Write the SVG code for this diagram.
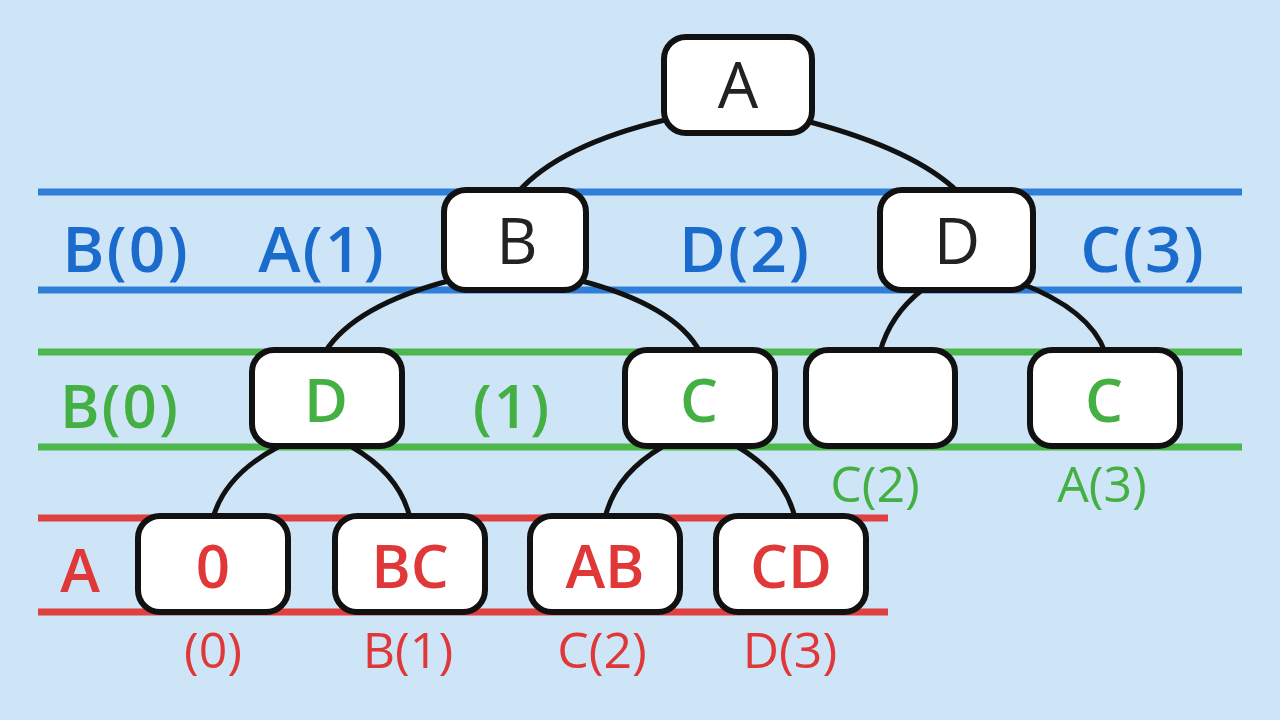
<svg xmlns="http://www.w3.org/2000/svg" width="1280" height="720" viewBox="0 0 1280 720">
<style>
.n{fill:#fff;stroke:#111;stroke-width:6}
.e{fill:none;stroke:#111;stroke-width:5}
.t{font-family:"Open Sans","Liberation Sans",sans-serif;text-anchor:middle}
.bl{fill:#1a6bcc;font-size:64px;font-weight:600;letter-spacing:2px}
.gr{fill:#44b044;font-size:60px;font-weight:600;letter-spacing:2px}
.rd{fill:#e03838;font-size:60px;font-weight:600}
.sg{fill:#44b044;font-size:50px}
.sr{fill:#e03838;font-size:50px}
</style>
<rect width="1280" height="720" fill="#cde5f6"/>
<g id="bands">
<line x1="38" y1="192" x2="1242" y2="192" stroke="#2f7fd8" stroke-width="7"/>
<line x1="38" y1="290" x2="1242" y2="290" stroke="#2f7fd8" stroke-width="7"/>
<line x1="38" y1="352" x2="1242" y2="352" stroke="#4cb84c" stroke-width="7"/>
<line x1="38" y1="447" x2="1242" y2="447" stroke="#4cb84c" stroke-width="7"/>
<line x1="38" y1="518" x2="888" y2="518" stroke="#e04040" stroke-width="7"/>
<line x1="38" y1="612" x2="888" y2="612" stroke="#e04040" stroke-width="7"/>
</g>
<g id="connectors">
<path class="e" d="M665,120 Q560,145 518,192"/>
<path class="e" d="M810,122 Q915,150 958,192"/>
<path class="e" d="M452,280 Q355,305 325,352"/>
<path class="e" d="M578,280 Q675,305 700,352"/>
<path class="e" d="M922,290 Q890,315 880,352"/>
<path class="e" d="M1020,283 Q1090,310 1105,352"/>
<path class="e" d="M278,447 Q225,475 213,518"/>
<path class="e" d="M352,447 Q400,475 410,518"/>
<path class="e" d="M662,447 Q615,475 605,518"/>
<path class="e" d="M738,447 Q785,475 795,518"/>
</g>
<g id="nA"><rect class="n" x="664" y="37" width="148" height="96" rx="22"/><text class="t" x="738" y="108" font-size="64" fill="#222">A</text></g>
<g id="nB"><rect class="n" x="444" y="190" width="142" height="100" rx="22"/><text class="t" x="517" y="264" font-size="64" fill="#222">B</text></g>
<g id="nD"><rect class="n" x="880" y="190" width="153" height="100" rx="22"/><text class="t" x="957" y="264" font-size="64" fill="#222">D</text></g>
<g id="nD2"><rect class="n" x="252" y="350" width="150" height="96" rx="22"/><text class="t gr" x="327" y="422">D</text></g>
<g id="nC2"><rect class="n" x="625" y="350" width="150" height="96" rx="22"/><text class="t gr" x="700" y="422">C</text></g>
<g id="nE"><rect class="n" x="806" y="350" width="149" height="96" rx="22"/></g>
<g id="nC3"><rect class="n" x="1030" y="350" width="150" height="96" rx="22"/><text class="t gr" x="1105" y="422">C</text></g>
<g id="n0"><rect class="n" x="138" y="516" width="150" height="96" rx="22"/><text class="t rd" x="213" y="588">0</text></g>
<g id="nBC"><rect class="n" x="335" y="516" width="150" height="96" rx="22"/><text class="t rd" x="410" y="588">BC</text></g>
<g id="nAB"><rect class="n" x="530" y="516" width="150" height="96" rx="22"/><text class="t rd" x="605" y="588">AB</text></g>
<g id="nCD"><rect class="n" x="716" y="516" width="150" height="96" rx="22"/><text class="t rd" x="791" y="588">CD</text></g>
<g id="labels">
<text class="t bl" x="126" y="272">B(0)</text>
<text class="t bl" x="322" y="272">A(1)</text>
<text class="t bl" x="745" y="272">D(2)</text>
<text class="t bl" x="1143" y="272">C(3)</text>
<text class="t gr" x="120" y="428">B(0)</text>
<text class="t gr" x="512" y="428">(1)</text>
<text class="t sg" x="875" y="502">C(2)</text>
<text class="t sg" x="1102" y="502">A(3)</text>
<text class="t rd" x="80" y="592">A</text>
<text class="t sr" x="213" y="668">(0)</text>
<text class="t sr" x="408" y="668">B(1)</text>
<text class="t sr" x="602" y="668">C(2)</text>
<text class="t sr" x="790" y="668">D(3)</text>
</g>
</svg>
